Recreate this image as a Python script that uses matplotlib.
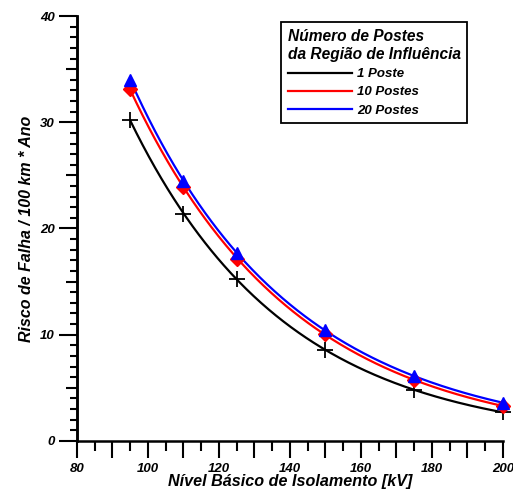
import numpy as np
import matplotlib
matplotlib.use("Agg")
import matplotlib.pyplot as plt
from matplotlib.ticker import MultipleLocator, FixedLocator, NullFormatter

plt.rcParams['font.family'] = ['Liberation Sans', 'DejaVu Sans']

x = np.array([95, 110, 125, 150, 175, 200])
y_1 = np.array([30.2, 21.4, 15.2, 8.6, 4.8, 2.7])
y_10 = np.array([33.1, 23.9, 17.1, 10.1, 5.7, 3.3])
y_20 = np.array([34.0, 24.5, 17.7, 10.4, 6.1, 3.6])
labels = ['1 Poste', '10 Postes', '20 Postes']
colors = ['black', 'red', 'blue']
markers = ['+', 'D', '^']

fig = plt.figure(figsize=(5.13, 4.94), dpi=100)
ax = fig.add_axes([0.150, 0.1073, 0.8305, 0.8603])

xs = np.linspace(x.min(), x.max(), 300)
handles = []
for ys, lab, c, m in zip([y_1, y_10, y_20], labels, colors, markers):
    coef = np.polyfit(x, np.log(ys), 3)
    h, = ax.plot(xs, np.exp(np.polyval(coef, xs)), color=c, lw=1.6, label=lab, zorder=2)
    handles.append(h)
    if m == '+':
        ax.plot(x, ys, ls='none', marker='+', ms=12, mew=1.3, color=c, zorder=3, clip_on=False)
    elif m == 'D':
        ax.plot(x, ys, ls='none', marker='D', ms=7, color=c, zorder=3, clip_on=False)
    else:
        ax.plot(x, ys, ls='none', marker='^', ms=9, color=c, zorder=4, clip_on=False)

ax.set_xlim(80, 200)
ax.set_ylim(0, 40)
for s in ['top', 'right']:
    ax.spines[s].set_visible(False)
for s in ['left', 'bottom']:
    ax.spines[s].set_linewidth(1.8)

ax.xaxis.set_major_locator(FixedLocator(np.arange(80, 201, 10)))
ax.set_xticklabels([str(v) if v % 20 == 0 else '' for v in range(80, 201, 10)])
ax.xaxis.set_minor_locator(MultipleLocator(5))
ax.yaxis.set_major_locator(MultipleLocator(10))
ax.yaxis.set_minor_locator(FixedLocator([v for v in range(0, 41) if v % 5 != 0]))
ax.tick_params(axis='x', which='major', length=12, width=1.5, direction='out', pad=4)
ax.tick_params(axis='x', which='minor', length=7, width=1.5, direction='out')
ax.tick_params(axis='y', which='major', length=13, width=1.5, direction='out', pad=3)
ax.tick_params(axis='y', which='minor', length=5, width=1.5, direction='out')

sec = ax.secondary_yaxis('left')
sec.yaxis.set_major_locator(FixedLocator([5, 15, 25, 35]))
sec.yaxis.set_major_formatter(NullFormatter())
sec.tick_params(axis='y', which='major', length=8, width=1.5, direction='out')
sec.tick_params(axis='y', which='minor', length=0)
sec.spines['left'].set_linewidth(1.8)

for lbl in ax.get_xticklabels() + ax.get_yticklabels():
    lbl.set_fontweight('bold')
    lbl.set_fontstyle('italic')
    lbl.set_fontsize(9.5)

ax.set_xlabel('Nível Básico de Isolamento [kV]', fontsize=11.6, fontweight='bold',
              fontstyle='italic', labelpad=-1)
ax.set_ylabel('Risco de Falha / 100 km * Ano', fontsize=11.5, fontweight='bold',
              fontstyle='italic', labelpad=4)

leg = ax.legend(handles=handles, title='Número de Postes\nda Região de Influência',
                loc='upper left', bbox_to_anchor=(0.479, 0.986), frameon=True,
                fancybox=False, edgecolor='black', framealpha=1, handlelength=4.85,
                prop={'weight': 'bold', 'style': 'italic', 'size': 9.5},
                borderpad=0.5, labelspacing=0.45, handletextpad=0.4,
                borderaxespad=0)
leg.get_frame().set_linewidth(1.3)
t = leg.get_title()
t.set_fontweight('bold')
t.set_fontstyle('italic')
t.set_fontsize(11.2)
t.set_ha('left')
t.set_linespacing(1.3)
leg._legend_box.align = 'left'

fig.savefig('out.png', dpi=100)
